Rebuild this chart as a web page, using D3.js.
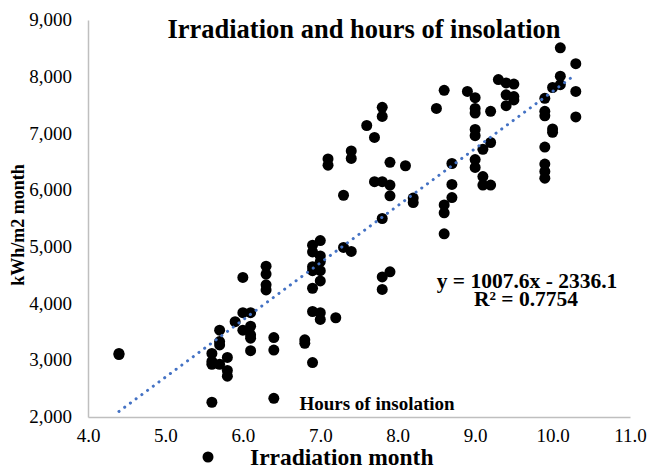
<!DOCTYPE html>
<html>
<head>
<meta charset="utf-8">
<script src="https://cdn.jsdelivr.net/npm/d3@7"></script>
<style>
    body { margin: 0; background: #fff; }
    svg { font-family: "Liberation Serif", "Times New Roman", serif; }
</style>
</head>
<body>
<svg id="svgIrradiation" width="647" height="468"></svg>
<script>
// Hours of insolation (x) and irradiation kWh/m2 month (y)
const hours = [
    4.4, 4.4, 5.6, 5.6, 5.6, 5.6, 5.7, 5.7, 5.7, 5.7, 5.8, 5.8, 5.8, 5.9, 6.0, 6.0, 6.0,
    6.1, 6.1, 6.1, 6.1, 6.1, 6.3, 6.3, 6.3, 6.3, 6.4, 6.4, 6.4,
    6.8, 6.8, 6.9, 6.9, 6.9, 6.9, 6.9, 6.9, 6.9, 7.0, 7.0, 7.0, 7.0, 7.0, 7.0, 7.0,
    7.2, 7.3, 7.4, 7.8, 7.9, 7.8,
    7.1, 7.1, 7.3, 7.4, 7.4, 7.6, 7.7, 7.7, 7.8, 7.8, 7.8, 7.8, 7.9, 7.9, 7.9, 8.1, 8.2, 8.2,
    8.5, 8.6, 8.6, 8.6, 8.6, 8.7, 8.7, 8.7, 8.9,
    9.0, 9.0, 9.0, 9.0, 9.0, 9.0, 9.0, 9.1, 9.1, 9.1, 9.2, 9.2, 9.2,
    9.3, 9.4, 9.4, 9.4, 9.5, 9.5, 9.5,
    9.9, 9.9, 9.9, 9.9, 9.9, 9.9, 9.9, 10.0, 10.0, 10.0, 10.1, 10.1, 10.1, 10.3, 10.3, 10.3
];
const irradiation = [
    3120, 3100, 2260, 3120, 2980, 2930, 3530, 3330, 3270, 2930, 3050, 2820, 2720, 3680, 4460, 3840, 3530,
    3840, 3600, 3450, 3390, 3170, 4660, 4520, 4330, 4240, 3400, 3180, 2330,
    3360, 3300, 2960, 3860, 4270, 4580, 4650, 4910, 5030, 5110, 4840, 4740, 4580, 4400, 3840, 3720,
    3750, 4990, 4920, 4470, 4560, 4250,
    6550, 6440, 5910, 6690, 6560, 7140, 6930, 6150, 7460, 7300, 6150, 5500, 6490, 6090, 5900, 6430, 5860, 5780,
    7440, 7760, 5740, 5600, 5230, 6470, 6100, 5870, 7740,
    7630, 7440, 7360, 7070, 6960, 6540, 6400, 6720, 6240, 6090, 7390, 6840, 6090,
    7950, 7890, 7680, 7490, 7870, 7650, 7590,
    7620, 7390, 7310, 6760, 6460, 6330, 6210, 7810, 7080, 7020, 8510, 8010, 7860, 8230, 7740, 7290
];

// Linear trendline as shown on the chart
const slope = 1007.6;
const intercept = -2336.1;
const xTicks = [4, 5, 6, 7, 8, 9, 10, 11];
const yTicks = [2000, 3000, 4000, 5000, 6000, 7000, 8000, 9000];

const svg = d3.select("#svgIrradiation");
const margin = { top: 20, right: 17, bottom: 51, left: 88 };
const width = 647 - margin.left - margin.right;
const height = 468 - margin.top - margin.bottom;

const x = d3.scaleLinear().domain([4, 11]).range([0, width]);
const y = d3.scaleLinear().domain([2000, 9000]).range([height, 0]);

const g = svg.append("g")
    .attr("transform", `translate(${margin.left},${margin.top})`);

// axes (Excel style: grey line, no tick marks)
const xAxis = g.append("g")
    .attr("transform", `translate(0,${height})`)
    .call(d3.axisBottom(x).tickValues(xTicks).tickFormat(d3.format(".1f")).tickSize(0).tickPadding(12));

const yAxis = g.append("g")
    .call(d3.axisLeft(y).tickValues(yTicks).tickFormat(d3.format(",")).tickSize(0).tickPadding(16));

[xAxis, yAxis].forEach(a => {
    a.select(".domain").attr("stroke", "#bfbfbf").attr("stroke-width", 1.5);
    a.selectAll("text")
        .attr("font-family", "Liberation Serif, Times New Roman, serif")
        .attr("font-size", 19)
        .attr("fill", "#000");
});
yAxis.selectAll("text").attr("dy", "0.3em");

// scatter points
const points = hours.map((h, i) => ({ h: h, v: irradiation[i] }));

g.selectAll(".dot")
    .data(points)
    .enter().append("circle")
    .attr("class", "dot")
    .attr("cx", d => x(d.h))
    .attr("cy", d => y(d.v))
    .attr("r", 5.5)
    .attr("fill", "#000");

// dotted trendline over the data range
const xExtent = d3.extent(hours);
const trend = xExtent.map(h => ({ h: h, v: slope * h + intercept }));

g.append("path")
    .datum(trend)
    .attr("d", d3.line().x(d => x(d.h)).y(d => y(d.v)))
    .attr("fill", "none")
    .attr("stroke", "#4472c4")
    .attr("stroke-width", 3)
    .attr("stroke-linecap", "round")
    .attr("stroke-dasharray", "0.1 7");

// texts
svg.append("text")
    .attr("x", 364)
    .attr("y", 38)
    .attr("text-anchor", "middle")
    .attr("font-size", 26.5)
    .attr("font-weight", "bold")
    .text("Irradiation and hours of insolation");

svg.append("text")
    .attr("transform", "translate(24,225) rotate(-90)")
    .attr("text-anchor", "middle")
    .attr("font-size", 18)
    .attr("font-weight", "bold")
    .text("kWh/m2 month");

svg.append("text")
    .attr("x", 377)
    .attr("y", 410)
    .attr("text-anchor", "middle")
    .attr("font-size", 19)
    .attr("font-weight", "bold")
    .text("Hours of insolation");

svg.append("text")
    .attr("x", 527)
    .attr("y", 288)
    .attr("text-anchor", "middle")
    .attr("font-size", 21.5)
    .attr("font-weight", "bold")
    .text("y = 1007.6x - 2336.1");

svg.append("text")
    .attr("x", 526)
    .attr("y", 306)
    .attr("text-anchor", "middle")
    .attr("font-size", 21.5)
    .attr("font-weight", "bold")
    .text("R² = 0.7754");

// legend
const legend = svg.append("g")
    .attr("transform", "translate(208,457)");

legend.append("circle")
    .attr("r", 5.5)
    .attr("fill", "#000");

legend.append("text")
    .attr("x", 42)
    .attr("y", 8)
    .attr("font-size", 23.5)
    .attr("font-weight", "bold")
    .text("Irradiation month");
</script>
</body>
</html>
